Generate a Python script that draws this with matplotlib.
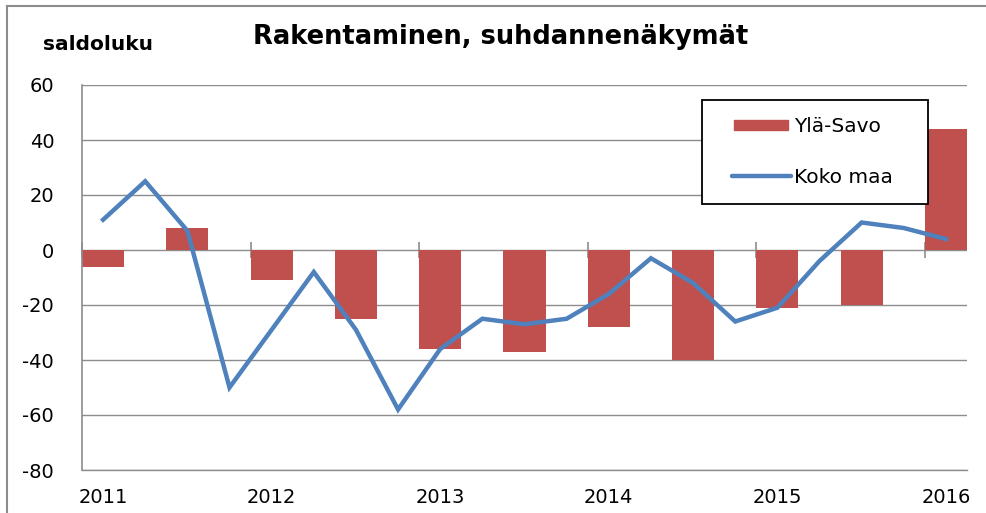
import numpy as np
import matplotlib
matplotlib.use("Agg")
import matplotlib.pyplot as plt
from matplotlib.lines import Line2D
from matplotlib.patches import Rectangle
from matplotlib.legend_handler import HandlerPatch, HandlerLine2D

# ---- data ----
years = ["2011", "2012", "2013", "2014", "2015", "2016"]
koko_maa = [11, 25, 7, -50, -29, -8, -29, -58, -36, -25, -27,
            -25, -16, -3, -12, -26, -21, -4, 10, 8, 4]
yla_savo = [-6, np.nan, 8, np.nan, -11, np.nan, -25, np.nan, -36, np.nan, -37,
            np.nan, -28, np.nan, -40, np.nan, -21, np.nan, -20, np.nan, 44]
yticks = [60, 40, 20, 0, -20, -40, -60, -80]

W, H = 986, 513
fig = plt.figure(figsize=(W / 100, H / 100), dpi=100)
fig.patch.set_facecolor("white")

L, R, T, B = 82, 967, 85, 470
ax = fig.add_axes([L / W, 1 - B / H, (R - L) / W, (B - T) / H])

x = np.arange(len(koko_maa))
bar_col = "#C0504D"
line_col = "#4F81BD"
grid_col = "#8C8C8C"

ax.bar(x, yla_savo, width=1.0, color=bar_col, label="Ylä-Savo", zorder=2)
ax.plot(x, koko_maa, color=line_col, lw=3.2, label="Koko maa", zorder=3,
        solid_joinstyle="miter")

ax.set_xlim(-0.5, len(koko_maa) - 0.5)
ax.set_ylim(-80, 60)
ax.set_yticks(yticks)
ax.set_yticklabels([str(v) for v in yticks])
ax.yaxis.grid(True, color=grid_col, lw=1.0, zorder=0)
ax.set_axisbelow(True)

ax.set_xticks(x[::4])
ax.set_xticklabels(years)
ax.tick_params(axis="x", length=0, pad=13, labelsize=14)
ax.tick_params(axis="y", length=0, pad=20, labelsize=14)

for s in ["top", "right"]:
    ax.spines[s].set_visible(False)
ax.spines["left"].set_color(grid_col)
ax.spines["left"].set_linewidth(1.2)
ax.spines["bottom"].set_color(grid_col)
ax.spines["bottom"].set_linewidth(1.0)

# tick marks crossing the zero line at the category boundaries
sec = ax.secondary_xaxis((0 - (-80)) / 140)
sec.set_xticks(np.arange(-0.5, len(koko_maa), 4))
sec.set_xticklabels([])
sec.tick_params(axis="x", direction="inout", length=12, color=grid_col, width=1.2)
sec.spines["bottom"].set_color(grid_col)
sec.spines["bottom"].set_linewidth(1.0)
for s in ["top", "left", "right"]:
    if s in sec.spines:
        sec.spines[s].set_visible(False)


# legend handlers with extra left inset
SHIFT = 11  # pixels


class InsetPatch(HandlerPatch):
    def create_artists(self, legend, orig_handle, xdescent, ydescent,
                       width, height, fontsize, trans):
        p = Rectangle((-xdescent + SHIFT, -ydescent + height * 0.12),
                      width - SHIFT - 2, height * 0.76, color=bar_col)
        p.set_transform(trans)
        return [p]


class InsetLine(HandlerLine2D):
    def create_artists(self, legend, orig_handle, xdescent, ydescent,
                       width, height, fontsize, trans):
        y = (height - ydescent) / 2
        ln = Line2D([-xdescent + SHIFT - 2, width - xdescent], [y, y],
                    color=line_col, lw=3.2, solid_capstyle="round")
        ln.set_transform(trans)
        return [ln]


handles = [Rectangle((0, 0), 1, 1, color=bar_col),
           Line2D([0], [0], color=line_col, lw=3.2)]
lx0 = (702 - L) / (R - L)
lx1 = (928 - L) / (R - L)
ly1 = (B - 100) / (B - T)
leg = ax.legend(handles, ["Ylä-Savo", "Koko maa"], loc="upper left",
                bbox_to_anchor=(lx0, ly1 - 0.3, lx1 - lx0, 0.3), mode="expand",
                borderaxespad=0, fancybox=False, frameon=True, framealpha=1.0,
                fontsize=14.5,
                handlelength=(16 + 56) / 20.1, handletextpad=0.15,
                labelspacing=1.6, borderpad=0.85, handleheight=0.7,
                handler_map={Rectangle: InsetPatch(), Line2D: InsetLine()})
leg.get_frame().set_edgecolor("black")
leg.get_frame().set_facecolor("white")
leg.get_frame().set_linewidth(1.3)
leg.set_zorder(5)

# titles
fig.text(501 / W, 1 - 37 / H, "Rakentaminen, suhdannenäkymät", ha="center",
         va="center", fontsize=18.5, fontweight="bold")
fig.text(43 / W, 1 - 44 / H, "saldoluku", ha="left", va="center",
         fontsize=14.5, fontweight="bold")

# outer chart frame (left and top visible)
fig.add_artist(Line2D([7 / W, 7 / W], [0, 1 - 6 / H], transform=fig.transFigure,
                      color="#8C8C8C", lw=1.5))
fig.add_artist(Line2D([7 / W, 1], [1 - 6 / H, 1 - 6 / H], transform=fig.transFigure,
                      color="#8C8C8C", lw=1.5))

fig.savefig("out.png", dpi=100)
